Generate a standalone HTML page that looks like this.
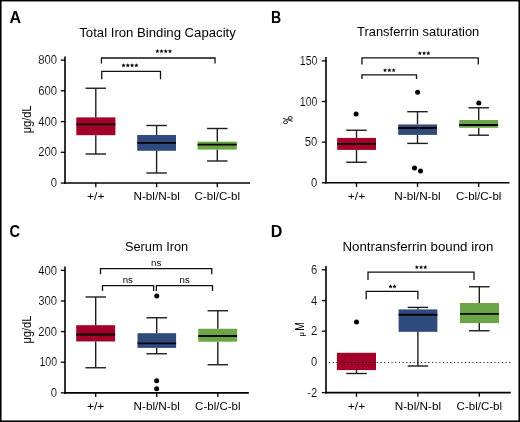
<!DOCTYPE html><html><head><meta charset="utf-8"><style>html,body{margin:0;padding:0;background:#fff;}svg{display:block;will-change:transform;}</style></head><body>
<svg width="520" height="422" viewBox="0 0 520 422" font-family="&quot;Liberation Sans&quot;, sans-serif">
<rect x="0" y="0" width="520" height="422" fill="#fff"/>
<defs><clipPath id="redclip"><rect x="337" y="352" width="39" height="19"/></clipPath></defs>
<line x1="65" y1="56.5" x2="65" y2="183.85" stroke="#000" stroke-width="1.6"/>
<line x1="64.2" y1="183.05" x2="250" y2="183.05" stroke="#000" stroke-width="1.6"/>
<line x1="60.8" y1="60.1" x2="65" y2="60.1" stroke="#000" stroke-width="1.3"/>
<text x="57.1" y="64.2" font-size="12" text-anchor="end" font-weight="normal" fill="#000" textLength="18.85" lengthAdjust="spacingAndGlyphs"  stroke="#fff" stroke-width="0.12">800</text>
<line x1="60.8" y1="90.8" x2="65" y2="90.8" stroke="#000" stroke-width="1.3"/>
<text x="57.1" y="94.89999999999999" font-size="12" text-anchor="end" font-weight="normal" fill="#000" textLength="18.85" lengthAdjust="spacingAndGlyphs"  stroke="#fff" stroke-width="0.12">600</text>
<line x1="60.8" y1="121.6" x2="65" y2="121.6" stroke="#000" stroke-width="1.3"/>
<text x="57.1" y="125.69999999999999" font-size="12" text-anchor="end" font-weight="normal" fill="#000" textLength="18.85" lengthAdjust="spacingAndGlyphs"  stroke="#fff" stroke-width="0.12">400</text>
<line x1="60.8" y1="152.3" x2="65" y2="152.3" stroke="#000" stroke-width="1.3"/>
<text x="57.1" y="156.4" font-size="12" text-anchor="end" font-weight="normal" fill="#000" textLength="18.85" lengthAdjust="spacingAndGlyphs"  stroke="#fff" stroke-width="0.12">200</text>
<line x1="60.8" y1="183.05" x2="65" y2="183.05" stroke="#000" stroke-width="1.3"/>
<text x="57.1" y="187.15" font-size="12" text-anchor="end" font-weight="normal" fill="#000" textLength="6.28" lengthAdjust="spacingAndGlyphs"  stroke="#fff" stroke-width="0.12">0</text>
<line x1="95.8" y1="183.05" x2="95.8" y2="187.25" stroke="#000" stroke-width="1.3"/>
<line x1="156.6" y1="183.05" x2="156.6" y2="187.25" stroke="#000" stroke-width="1.3"/>
<line x1="217.3" y1="183.05" x2="217.3" y2="187.25" stroke="#000" stroke-width="1.3"/>
<text x="95.8" y="200.4" font-size="11.5" text-anchor="middle" font-weight="normal" fill="#000" textLength="17.4" lengthAdjust="spacingAndGlyphs" >+/+</text>
<text x="156.6" y="200.4" font-size="11.5" text-anchor="middle" font-weight="normal" fill="#000" textLength="46.4" lengthAdjust="spacingAndGlyphs" >N-bl/N-bl</text>
<text x="217.3" y="200.4" font-size="11.5" text-anchor="middle" font-weight="normal" fill="#000" >C-bl/C-bl</text>
<text x="79.3" y="36.8" font-size="13.3" text-anchor="start" font-weight="normal" fill="#000" textLength="156.5" lengthAdjust="spacingAndGlyphs" >Total Iron Binding Capacity</text>
<text x="9.5" y="22.6" font-size="16" text-anchor="start" font-weight="bold" fill="#000" >A</text>
<text transform="translate(30.7,119.4) rotate(-90)" font-size="13.5" text-anchor="middle" textLength="27.8" lengthAdjust="spacingAndGlyphs">μg/dL</text>
<line x1="95.8" y1="88.25" x2="95.8" y2="117.4" stroke="#1e1e1e" stroke-width="1.4"/>
<line x1="85.55" y1="88.25" x2="106.05" y2="88.25" stroke="#1e1e1e" stroke-width="1.4"/>
<line x1="95.8" y1="135.2" x2="95.8" y2="154" stroke="#1e1e1e" stroke-width="1.4"/>
<line x1="85.55" y1="154" x2="106.05" y2="154" stroke="#1e1e1e" stroke-width="1.4"/>
<rect x="76.3" y="117.4" width="39.1" height="17.8" fill="rgb(163,0,42)"/>
<line x1="76.3" y1="124.35" x2="115.4" y2="124.35" stroke="#000" stroke-width="1.9"/>
<line x1="156.6" y1="125.5" x2="156.6" y2="135" stroke="#1e1e1e" stroke-width="1.4"/>
<line x1="146.35" y1="125.5" x2="166.85" y2="125.5" stroke="#1e1e1e" stroke-width="1.4"/>
<line x1="156.6" y1="150.8" x2="156.6" y2="173" stroke="#1e1e1e" stroke-width="1.4"/>
<line x1="146.35" y1="173" x2="166.85" y2="173" stroke="#1e1e1e" stroke-width="1.4"/>
<rect x="137.2" y="135" width="38.8" height="15.8" fill="rgb(47,75,125)"/>
<line x1="137.2" y1="142.85" x2="176" y2="142.85" stroke="#000" stroke-width="1.9"/>
<line x1="217.3" y1="128.5" x2="217.3" y2="141.65" stroke="#1e1e1e" stroke-width="1.4"/>
<line x1="207.05" y1="128.5" x2="227.55" y2="128.5" stroke="#1e1e1e" stroke-width="1.4"/>
<line x1="217.3" y1="149.6" x2="217.3" y2="161" stroke="#1e1e1e" stroke-width="1.4"/>
<line x1="207.05" y1="161" x2="227.55" y2="161" stroke="#1e1e1e" stroke-width="1.4"/>
<rect x="197.6" y="141.65" width="39.2" height="7.95" fill="rgb(106,166,68)"/>
<line x1="197.6" y1="144.6" x2="236.8" y2="144.6" stroke="#000" stroke-width="1.9"/>
<path d="M101.45 63.6 V58 H215 V63.6" fill="none" stroke="#111" stroke-width="1.3"/>
<polygon points="157.34,48.95 157.93,50.39 159.48,50.50 158.29,51.51 158.66,53.02 157.34,52.20 156.01,53.02 156.39,51.51 155.20,50.50 156.75,50.39" fill="#000"/>
<polygon points="161.55,48.95 162.13,50.39 163.69,50.50 162.50,51.51 162.87,53.02 161.55,52.20 160.22,53.02 160.59,51.51 159.41,50.50 160.96,50.39" fill="#000"/>
<polygon points="165.75,48.95 166.34,50.39 167.89,50.50 166.71,51.51 167.08,53.02 165.75,52.20 164.43,53.02 164.80,51.51 163.61,50.50 165.17,50.39" fill="#000"/>
<polygon points="169.96,48.95 170.55,50.39 172.10,50.50 170.91,51.51 171.29,53.02 169.96,52.20 168.64,53.02 169.01,51.51 167.82,50.50 169.37,50.39" fill="#000"/>
<path d="M101.75 79.2 V71.35 H160.5 V79.3" fill="none" stroke="#111" stroke-width="1.3"/>
<polygon points="123.54,63.15 124.13,64.59 125.68,64.70 124.49,65.71 124.86,67.22 123.54,66.40 122.21,67.22 122.59,65.71 121.40,64.70 122.95,64.59" fill="#000"/>
<polygon points="127.81,63.15 128.40,64.59 129.95,64.70 128.76,65.71 129.14,67.22 127.81,66.40 126.49,67.22 126.86,65.71 125.67,64.70 127.22,64.59" fill="#000"/>
<polygon points="132.09,63.15 132.68,64.59 134.23,64.70 133.04,65.71 133.41,67.22 132.09,66.40 130.76,67.22 131.14,65.71 129.95,64.70 131.50,64.59" fill="#000"/>
<polygon points="136.36,63.15 136.95,64.59 138.50,64.70 137.31,65.71 137.69,67.22 136.36,66.40 135.04,67.22 135.41,65.71 134.22,64.70 135.77,64.59" fill="#000"/>
<line x1="326" y1="57" x2="326" y2="183.6" stroke="#000" stroke-width="1.6"/>
<line x1="325.2" y1="182.8" x2="509.5" y2="182.8" stroke="#000" stroke-width="1.6"/>
<line x1="321.8" y1="60.9" x2="326" y2="60.9" stroke="#000" stroke-width="1.3"/>
<text x="317.4" y="65.0" font-size="12" text-anchor="end" font-weight="normal" fill="#000" textLength="17.65" lengthAdjust="spacingAndGlyphs"  stroke="#fff" stroke-width="0.12">150</text>
<line x1="321.8" y1="101.5" x2="326" y2="101.5" stroke="#000" stroke-width="1.3"/>
<text x="317.4" y="105.6" font-size="12" text-anchor="end" font-weight="normal" fill="#000" textLength="17.65" lengthAdjust="spacingAndGlyphs"  stroke="#fff" stroke-width="0.12">100</text>
<line x1="321.8" y1="142.1" x2="326" y2="142.1" stroke="#000" stroke-width="1.3"/>
<text x="317.4" y="146.2" font-size="12" text-anchor="end" font-weight="normal" fill="#000" textLength="12.57" lengthAdjust="spacingAndGlyphs"  stroke="#fff" stroke-width="0.12">50</text>
<line x1="321.8" y1="182.8" x2="326" y2="182.8" stroke="#000" stroke-width="1.3"/>
<text x="317.4" y="186.9" font-size="12" text-anchor="end" font-weight="normal" fill="#000" textLength="6.28" lengthAdjust="spacingAndGlyphs"  stroke="#fff" stroke-width="0.12">0</text>
<line x1="356.5" y1="182.8" x2="356.5" y2="187.0" stroke="#000" stroke-width="1.3"/>
<line x1="417.5" y1="182.8" x2="417.5" y2="187.0" stroke="#000" stroke-width="1.3"/>
<line x1="478.7" y1="182.8" x2="478.7" y2="187.0" stroke="#000" stroke-width="1.3"/>
<text x="356.5" y="199.9" font-size="11.5" text-anchor="middle" font-weight="normal" fill="#000" textLength="17.4" lengthAdjust="spacingAndGlyphs" >+/+</text>
<text x="417.5" y="199.9" font-size="11.5" text-anchor="middle" font-weight="normal" fill="#000" textLength="46.4" lengthAdjust="spacingAndGlyphs" >N-bl/N-bl</text>
<text x="478.7" y="199.9" font-size="11.5" text-anchor="middle" font-weight="normal" fill="#000" >C-bl/C-bl</text>
<text x="357.0" y="36.25" font-size="13.3" text-anchor="start" font-weight="normal" fill="#000" textLength="122.3" lengthAdjust="spacingAndGlyphs" >Transferrin saturation</text>
<text x="271.06" y="22.6" font-size="16" text-anchor="start" font-weight="bold" fill="#000" textLength="10.17" lengthAdjust="spacingAndGlyphs" >B</text>
<g fill="none" stroke="#1a1a1a" stroke-width="0.95"><ellipse cx="290.2" cy="118" rx="2.1" ry="1.45"/><ellipse cx="285.5" cy="122.2" rx="2.1" ry="1.45"/><line x1="283" y1="118.3" x2="292.7" y2="121.3"/></g>
<line x1="356.5" y1="130.25" x2="356.5" y2="137.9" stroke="#1e1e1e" stroke-width="1.4"/>
<line x1="346.25" y1="130.25" x2="366.75" y2="130.25" stroke="#1e1e1e" stroke-width="1.4"/>
<line x1="356.5" y1="149.9" x2="356.5" y2="162.25" stroke="#1e1e1e" stroke-width="1.4"/>
<line x1="346.25" y1="162.25" x2="366.75" y2="162.25" stroke="#1e1e1e" stroke-width="1.4"/>
<rect x="337.2" y="137.9" width="38.8" height="12.0" fill="rgb(163,0,42)"/>
<line x1="337.2" y1="143.85" x2="376" y2="143.85" stroke="#000" stroke-width="1.9"/>
<line x1="417.5" y1="111.7" x2="417.5" y2="124.45" stroke="#1e1e1e" stroke-width="1.4"/>
<line x1="407.25" y1="111.7" x2="427.75" y2="111.7" stroke="#1e1e1e" stroke-width="1.4"/>
<line x1="417.5" y1="134.9" x2="417.5" y2="143.4" stroke="#1e1e1e" stroke-width="1.4"/>
<line x1="407.25" y1="143.4" x2="427.75" y2="143.4" stroke="#1e1e1e" stroke-width="1.4"/>
<rect x="398.2" y="124.45" width="38.8" height="10.45" fill="rgb(47,75,125)"/>
<line x1="398.2" y1="128.0" x2="437" y2="128.0" stroke="#000" stroke-width="1.9"/>
<line x1="478.7" y1="107.75" x2="478.7" y2="120" stroke="#1e1e1e" stroke-width="1.4"/>
<line x1="468.45" y1="107.75" x2="488.95" y2="107.75" stroke="#1e1e1e" stroke-width="1.4"/>
<line x1="478.7" y1="127.8" x2="478.7" y2="135.2" stroke="#1e1e1e" stroke-width="1.4"/>
<line x1="468.45" y1="135.2" x2="488.95" y2="135.2" stroke="#1e1e1e" stroke-width="1.4"/>
<rect x="459.2" y="120" width="38.9" height="7.8" fill="rgb(106,166,68)"/>
<line x1="459.2" y1="125" x2="498.1" y2="125" stroke="#000" stroke-width="1.9"/>
<circle cx="356.1" cy="114" r="2.5" fill="#000"/>
<circle cx="417.6" cy="92.2" r="2.5" fill="#000"/>
<circle cx="414.5" cy="167.9" r="2.5" fill="#000"/>
<circle cx="420.5" cy="171.05" r="2.5" fill="#000"/>
<circle cx="478.8" cy="103.1" r="2.5" fill="#000"/>
<path d="M361.95 64.4 V57.85 H478.25 V64.4" fill="none" stroke="#111" stroke-width="1.3"/>
<polygon points="419.84,51.05 420.43,52.49 421.98,52.60 420.79,53.61 421.16,55.12 419.84,54.30 418.51,55.12 418.89,53.61 417.70,52.60 419.25,52.49" fill="#000"/>
<polygon points="424.05,51.05 424.64,52.49 426.19,52.60 425.00,53.61 425.37,55.12 424.05,54.30 422.73,55.12 423.10,53.61 421.91,52.60 423.46,52.49" fill="#000"/>
<polygon points="428.26,51.05 428.85,52.49 430.40,52.60 429.21,53.61 429.59,55.12 428.26,54.30 426.94,55.12 427.31,53.61 426.12,52.60 427.67,52.49" fill="#000"/>
<path d="M361.95 79.1 V74.9 H416.5 V79.1" fill="none" stroke="#111" stroke-width="1.3"/>
<polygon points="385.04,67.95 385.63,69.39 387.18,69.50 385.99,70.51 386.36,72.02 385.04,71.20 383.71,72.02 384.09,70.51 382.90,69.50 384.45,69.39" fill="#000"/>
<polygon points="389.35,67.95 389.94,69.39 391.49,69.50 390.30,70.51 390.67,72.02 389.35,71.20 388.03,72.02 388.40,70.51 387.21,69.50 388.76,69.39" fill="#000"/>
<polygon points="393.66,67.95 394.25,69.39 395.80,69.50 394.61,70.51 394.99,72.02 393.66,71.20 392.34,72.02 392.71,70.51 391.52,69.50 393.07,69.39" fill="#000"/>
<line x1="65" y1="266.5" x2="65" y2="393.65" stroke="#000" stroke-width="1.6"/>
<line x1="64.2" y1="392.85" x2="248.85" y2="392.85" stroke="#000" stroke-width="1.6"/>
<line x1="60.8" y1="270.4" x2="65" y2="270.4" stroke="#000" stroke-width="1.3"/>
<text x="57.1" y="274.5" font-size="12" text-anchor="end" font-weight="normal" fill="#000" textLength="18.85" lengthAdjust="spacingAndGlyphs"  stroke="#fff" stroke-width="0.12">400</text>
<line x1="60.8" y1="301" x2="65" y2="301" stroke="#000" stroke-width="1.3"/>
<text x="57.1" y="305.1" font-size="12" text-anchor="end" font-weight="normal" fill="#000" textLength="18.85" lengthAdjust="spacingAndGlyphs"  stroke="#fff" stroke-width="0.12">300</text>
<line x1="60.8" y1="331.6" x2="65" y2="331.6" stroke="#000" stroke-width="1.3"/>
<text x="57.1" y="335.70000000000005" font-size="12" text-anchor="end" font-weight="normal" fill="#000" textLength="18.85" lengthAdjust="spacingAndGlyphs"  stroke="#fff" stroke-width="0.12">200</text>
<line x1="60.8" y1="362.2" x2="65" y2="362.2" stroke="#000" stroke-width="1.3"/>
<text x="57.1" y="366.3" font-size="12" text-anchor="end" font-weight="normal" fill="#000" textLength="17.65" lengthAdjust="spacingAndGlyphs"  stroke="#fff" stroke-width="0.12">100</text>
<line x1="60.8" y1="392.85" x2="65" y2="392.85" stroke="#000" stroke-width="1.3"/>
<text x="57.1" y="396.95000000000005" font-size="12" text-anchor="end" font-weight="normal" fill="#000" textLength="6.28" lengthAdjust="spacingAndGlyphs"  stroke="#fff" stroke-width="0.12">0</text>
<line x1="95.7" y1="392.85" x2="95.7" y2="397.05" stroke="#000" stroke-width="1.3"/>
<line x1="156.7" y1="392.85" x2="156.7" y2="397.05" stroke="#000" stroke-width="1.3"/>
<line x1="217.8" y1="392.85" x2="217.8" y2="397.05" stroke="#000" stroke-width="1.3"/>
<text x="95.7" y="409.9" font-size="11.5" text-anchor="middle" font-weight="normal" fill="#000" textLength="17.4" lengthAdjust="spacingAndGlyphs" >+/+</text>
<text x="156.7" y="409.9" font-size="11.5" text-anchor="middle" font-weight="normal" fill="#000" textLength="46.4" lengthAdjust="spacingAndGlyphs" >N-bl/N-bl</text>
<text x="217.8" y="409.9" font-size="11.5" text-anchor="middle" font-weight="normal" fill="#000" >C-bl/C-bl</text>
<text x="124.9" y="250.8" font-size="13.3" text-anchor="start" font-weight="normal" fill="#000" textLength="63.3" lengthAdjust="spacingAndGlyphs" >Serum Iron</text>
<text x="9.5" y="236.6" font-size="16" text-anchor="start" font-weight="bold" fill="#000" textLength="10.51" lengthAdjust="spacingAndGlyphs" >C</text>
<text transform="translate(31.2,329.6) rotate(-90)" font-size="13.5" text-anchor="middle" textLength="27.8" lengthAdjust="spacingAndGlyphs">μg/dL</text>
<line x1="95.7" y1="297" x2="95.7" y2="325.2" stroke="#1e1e1e" stroke-width="1.4"/>
<line x1="85.45" y1="297" x2="105.95" y2="297" stroke="#1e1e1e" stroke-width="1.4"/>
<line x1="95.7" y1="341.45" x2="95.7" y2="367.75" stroke="#1e1e1e" stroke-width="1.4"/>
<line x1="85.45" y1="367.75" x2="105.95" y2="367.75" stroke="#1e1e1e" stroke-width="1.4"/>
<rect x="76.2" y="325.2" width="38.9" height="16.25" fill="rgb(163,0,42)"/>
<line x1="76.2" y1="334.45" x2="115.1" y2="334.45" stroke="#000" stroke-width="1.9"/>
<line x1="156.7" y1="317.75" x2="156.7" y2="333.2" stroke="#1e1e1e" stroke-width="1.4"/>
<line x1="146.45" y1="317.75" x2="166.95" y2="317.75" stroke="#1e1e1e" stroke-width="1.4"/>
<line x1="156.7" y1="347.9" x2="156.7" y2="353.75" stroke="#1e1e1e" stroke-width="1.4"/>
<line x1="146.45" y1="353.75" x2="166.95" y2="353.75" stroke="#1e1e1e" stroke-width="1.4"/>
<rect x="137.5" y="333.2" width="38.6" height="14.7" fill="rgb(47,75,125)"/>
<line x1="137.5" y1="343.4" x2="176.1" y2="343.4" stroke="#000" stroke-width="1.9"/>
<line x1="217.8" y1="310.75" x2="217.8" y2="328.75" stroke="#1e1e1e" stroke-width="1.4"/>
<line x1="207.55" y1="310.75" x2="228.05" y2="310.75" stroke="#1e1e1e" stroke-width="1.4"/>
<line x1="217.8" y1="341.7" x2="217.8" y2="364.75" stroke="#1e1e1e" stroke-width="1.4"/>
<line x1="207.55" y1="364.75" x2="228.05" y2="364.75" stroke="#1e1e1e" stroke-width="1.4"/>
<rect x="198.3" y="328.75" width="38.8" height="12.95" fill="rgb(106,166,68)"/>
<line x1="198.3" y1="335.95" x2="237.1" y2="335.95" stroke="#000" stroke-width="1.9"/>
<circle cx="156.75" cy="295.9" r="2.5" fill="#000"/>
<circle cx="156.66" cy="380.84" r="2.5" fill="#000"/>
<circle cx="156.66" cy="388.7" r="2.5" fill="#000"/>
<path d="M100.5 274.2 V268.6 H211.75 V274.2" fill="none" stroke="#111" stroke-width="1.3"/>
<text x="156.2" y="266.2" font-size="9.7" text-anchor="middle" font-weight="normal" fill="#000" >ns</text>
<path d="M102.5 291 V285.7 H153.6 V291" fill="none" stroke="#111" stroke-width="1.3"/>
<text x="127.85" y="283.3" font-size="9.7" text-anchor="middle" font-weight="normal" fill="#000" >ns</text>
<path d="M156.35 291 V285.7 H212.5 V291" fill="none" stroke="#111" stroke-width="1.3"/>
<text x="184.7" y="283.3" font-size="9.7" text-anchor="middle" font-weight="normal" fill="#000" >ns</text>
<line x1="329.0" y1="362.45" x2="511.5" y2="362.45" stroke="#2a2a2a" stroke-width="1.15" stroke-dasharray="1.2 2.475"/>
<line x1="326" y1="266" x2="326" y2="393.4" stroke="#000" stroke-width="1.6"/>
<line x1="325.2" y1="392.6" x2="510.75" y2="392.6" stroke="#000" stroke-width="1.6"/>
<line x1="321.8" y1="269.8" x2="326" y2="269.8" stroke="#000" stroke-width="1.3"/>
<text x="317.4" y="273.90000000000003" font-size="12" text-anchor="end" font-weight="normal" fill="#000" textLength="6.28" lengthAdjust="spacingAndGlyphs"  stroke="#fff" stroke-width="0.12">6</text>
<line x1="321.8" y1="300.6" x2="326" y2="300.6" stroke="#000" stroke-width="1.3"/>
<text x="317.4" y="304.70000000000005" font-size="12" text-anchor="end" font-weight="normal" fill="#000" textLength="6.28" lengthAdjust="spacingAndGlyphs"  stroke="#fff" stroke-width="0.12">4</text>
<line x1="321.8" y1="331.2" x2="326" y2="331.2" stroke="#000" stroke-width="1.3"/>
<text x="317.4" y="335.3" font-size="12" text-anchor="end" font-weight="normal" fill="#000" textLength="6.28" lengthAdjust="spacingAndGlyphs"  stroke="#fff" stroke-width="0.12">2</text>
<text x="317.4" y="366.1" font-size="12" text-anchor="end" font-weight="normal" fill="#000" textLength="6.28" lengthAdjust="spacingAndGlyphs"  stroke="#fff" stroke-width="0.12">0</text>
<line x1="321.8" y1="392.6" x2="326" y2="392.6" stroke="#000" stroke-width="1.3"/>
<text x="317.4" y="396.70000000000005" font-size="12" text-anchor="end" font-weight="normal" fill="#000" textLength="10.05" lengthAdjust="spacingAndGlyphs"  stroke="#fff" stroke-width="0.12">-2</text>
<line x1="356.5" y1="392.6" x2="356.5" y2="396.8" stroke="#000" stroke-width="1.3"/>
<line x1="417.9" y1="392.6" x2="417.9" y2="396.8" stroke="#000" stroke-width="1.3"/>
<line x1="479.3" y1="392.6" x2="479.3" y2="396.8" stroke="#000" stroke-width="1.3"/>
<text x="356.5" y="409.9" font-size="11.5" text-anchor="middle" font-weight="normal" fill="#000" textLength="17.4" lengthAdjust="spacingAndGlyphs" >+/+</text>
<text x="417.9" y="409.9" font-size="11.5" text-anchor="middle" font-weight="normal" fill="#000" textLength="46.4" lengthAdjust="spacingAndGlyphs" >N-bl/N-bl</text>
<text x="479.3" y="409.9" font-size="11.5" text-anchor="middle" font-weight="normal" fill="#000" >C-bl/C-bl</text>
<text x="342.45" y="250.75" font-size="13.3" text-anchor="start" font-weight="normal" fill="#000" textLength="151.0" lengthAdjust="spacingAndGlyphs" >Nontransferrin bound iron</text>
<text x="270.83" y="236.6" font-size="16" text-anchor="start" font-weight="bold" fill="#000" >D</text>
<text transform="translate(304.1,336.4) rotate(-90)" font-size="7.6">μ</text>
<text transform="translate(304.1,330.8) rotate(-90)" font-size="13" textLength="8.6" lengthAdjust="spacingAndGlyphs">M</text>
<line x1="356.5" y1="370.1" x2="356.5" y2="373.5" stroke="#1e1e1e" stroke-width="1.4"/>
<line x1="346.25" y1="373.5" x2="366.75" y2="373.5" stroke="#1e1e1e" stroke-width="1.4"/>
<rect x="336.9" y="352.8" width="39.1" height="17.3" fill="rgb(163,0,42)"/>
<line x1="417.9" y1="307.4" x2="417.9" y2="309.4" stroke="#1e1e1e" stroke-width="1.4"/>
<line x1="407.65" y1="307.4" x2="428.15" y2="307.4" stroke="#1e1e1e" stroke-width="1.4"/>
<line x1="417.9" y1="331.85" x2="417.9" y2="366" stroke="#1e1e1e" stroke-width="1.4"/>
<line x1="407.65" y1="366" x2="428.15" y2="366" stroke="#1e1e1e" stroke-width="1.4"/>
<rect x="398.6" y="309.4" width="38.8" height="22.45" fill="rgb(47,75,125)"/>
<line x1="398.6" y1="314.8" x2="437.4" y2="314.8" stroke="#000" stroke-width="1.9"/>
<line x1="479.3" y1="286.75" x2="479.3" y2="303" stroke="#1e1e1e" stroke-width="1.4"/>
<line x1="469.05" y1="286.75" x2="489.55" y2="286.75" stroke="#1e1e1e" stroke-width="1.4"/>
<line x1="479.3" y1="323.1" x2="479.3" y2="330.75" stroke="#1e1e1e" stroke-width="1.4"/>
<line x1="469.05" y1="330.75" x2="489.55" y2="330.75" stroke="#1e1e1e" stroke-width="1.4"/>
<rect x="460" y="303" width="39" height="20.1" fill="rgb(106,166,68)"/>
<line x1="460" y1="313.9" x2="499" y2="313.9" stroke="#000" stroke-width="1.9"/>
<line x1="329.0" y1="362.45" x2="511.5" y2="362.45" stroke="#000" stroke-width="1.15" stroke-dasharray="1.2 2.475" clip-path="url(#redclip)"/>
<circle cx="356.5" cy="322" r="2.5" fill="#000"/>
<path d="M368.0 280 V272.1 H474 V280" fill="none" stroke="#111" stroke-width="1.3"/>
<polygon points="416.84,265.05 417.43,266.49 418.98,266.60 417.79,267.61 418.16,269.12 416.84,268.30 415.51,269.12 415.89,267.61 414.70,266.60 416.25,266.49" fill="#000"/>
<polygon points="421.05,265.05 421.64,266.49 423.19,266.60 422.00,267.61 422.37,269.12 421.05,268.30 419.73,269.12 420.10,267.61 418.91,266.60 420.46,266.49" fill="#000"/>
<polygon points="425.26,265.05 425.85,266.49 427.40,266.60 426.21,267.61 426.59,269.12 425.26,268.30 423.94,269.12 424.31,267.61 423.12,266.60 424.67,266.49" fill="#000"/>
<path d="M366.2 299.3 V291.45 H417.9 V299.3" fill="none" stroke="#111" stroke-width="1.3"/>
<polygon points="390.54,284.35 391.13,285.79 392.68,285.90 391.49,286.91 391.86,288.42 390.54,287.60 389.21,288.42 389.59,286.91 388.40,285.90 389.95,285.79" fill="#000"/>
<polygon points="394.46,284.35 395.05,285.79 396.60,285.90 395.41,286.91 395.79,288.42 394.46,287.60 393.14,288.42 393.51,286.91 392.32,285.90 393.87,285.79" fill="#000"/>
<g fill="#000"><rect x="0" y="0" width="1.57" height="422"/><rect x="0" y="0" width="520" height="1.45"/><rect x="518.47" y="0" width="1.53" height="422"/><rect x="0" y="420.43" width="520" height="1.57"/></g>
</svg></body></html>
